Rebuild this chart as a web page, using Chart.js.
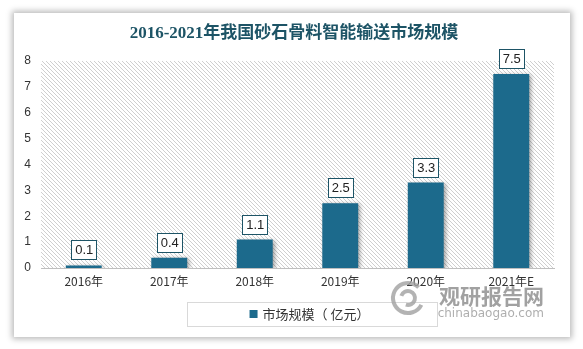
<!DOCTYPE html>
<html>
<head>
<meta charset="utf-8">
<script src="https://cdn.jsdelivr.net/npm/chart.js@4.4.1/dist/chart.umd.min.js"></script>
<style>
  html, body { margin: 0; padding: 0; background: #fff; }
  body { width: 583px; height: 349px; position: relative; overflow: hidden; }
  .card {
    position: absolute; left: 14px; top: 13px; width: 556px; height: 324px;
    background: #fff; box-shadow: 0 0 6px 2px rgba(0,0,0,.28);
  }
  canvas { display: block; }
</style>
</head>
<body>
<div class="card"><canvas id="chart" width="556" height="324"></canvas></div>
<script>
/* ── Data ───────────────────────────────────────────── */
const years  = ['2016年', '2017年', '2018年', '2019年', '2020年', '2021年E'];
const values = [0.1, 0.4, 1.1, 2.5, 3.3, 7.5];
const seriesName = '市场规模（ 亿元）';
const chartTitle = '2016-2021年我国砂石骨料智能输送市场规模';

const BAR   = '#1c6a8c';
const TEAL  = '#1d5466';
const FONT  = '"Liberation Sans", "Noto Sans CJK SC", sans-serif';
const CJK   = '"Noto Sans CJK SC", sans-serif';

/* ── Hatch background ───────────────────────────────── */
function hatch() {
  const c = document.createElement('canvas');
  c.width = 4; c.height = 4;
  const g = c.getContext('2d');
  g.fillStyle = '#fff'; g.fillRect(0, 0, 4, 4);
  g.fillStyle = '#cfcfcf';
  for (let i = 0; i < 4; i++) g.fillRect(i, i, 1, 1);
  return c;
}

const plotBg = {
  id: 'plotBg',
  beforeDraw(chart) {
    const { ctx, chartArea: a } = chart;
    ctx.save();
    ctx.fillStyle = ctx.createPattern(hatch(), 'repeat');
    ctx.fillRect(a.left, a.top, a.right - a.left, a.bottom - a.top);
    ctx.restore();
  },
};

/* ── Title, labels, legend frame, watermark ─────────── */
const extras = {
  id: 'extras',
  beforeDatasetsDraw(chart) {
    chart.ctx.save();
    chart.ctx.shadowColor = 'rgba(0,0,0,.35)';
    chart.ctx.shadowBlur = 4;
    chart.ctx.shadowOffsetX = 2;
    chart.ctx.shadowOffsetY = 1;
  },
  afterDatasetsDraw(chart) {
    const ctx = chart.ctx;
    ctx.restore();

    // value boxes
    const meta = chart.getDatasetMeta(0);
    ctx.save();
    ctx.font = '13px ' + FONT;
    ctx.textAlign = 'center';
    ctx.textBaseline = 'middle';
    meta.data.forEach((bar, i) => {
      const w = 25, h = 19;
      const x = Math.round(bar.x - w / 2), y = Math.round(bar.y - 6 - h);
      ctx.fillStyle = '#fff';
      ctx.fillRect(x, y, w, h);
      ctx.strokeStyle = TEAL;
      ctx.lineWidth = 1;
      ctx.strokeRect(x + .5, y + .5, w, h);
      ctx.fillStyle = '#222';
      ctx.fillText(values[i].toFixed(1), bar.x + .5, y + h / 2 + 1);
    });
    ctx.restore();
  },
  afterDraw(chart) {
    const { ctx } = chart;
    ctx.save();
    // title
    ctx.font = 'bold 17px "Liberation Serif", ' + CJK;
    ctx.fillStyle = TEAL;
    ctx.textAlign = 'center';
    ctx.textBaseline = 'middle';
    ctx.fillText(chartTitle, 280, 21);

    // legend
    const cx = 295, cy = 301;
    ctx.strokeStyle = '#d9d9d9';
    ctx.strokeRect(173.5, 289.5, 250, 24);
    ctx.font = '13px ' + CJK;
    ctx.textAlign = 'left';
    const tw = ctx.measureText(seriesName).width;
    const lx = cx - (tw + 12) / 2;
    ctx.fillStyle = BAR;
    ctx.fillRect(lx, cy - 4, 8, 8);
    ctx.fillStyle = '#333';
    ctx.fillText(seriesName, lx + 13, cy);

    // watermark
    ctx.globalAlpha = .8;
    ctx.fillStyle = '#8a8a8a';
    ctx.font = 'bold 21px ' + CJK;
    ctx.textAlign = 'right';
    ctx.fillText('观研报告网', 530, 283);
    ctx.fillStyle = '#9a9a9a';
    ctx.font = '12px "DejaVu Sans", sans-serif';
    ctx.textBaseline = 'alphabetic';
    ctx.fillText('chinabaogao.com', 530, 304);
    ctx.lineWidth = 4;
    ctx.strokeStyle = '#a0a0a0';
    ctx.beginPath();
    ctx.arc(394, 285, 15, Math.PI * .15, Math.PI * 1.75);
    ctx.stroke();
    ctx.beginPath();
    ctx.arc(394, 285, 7, Math.PI * 1.1, Math.PI * 2.6);
    ctx.stroke();
    ctx.restore();
  },
};

/* ── Chart ──────────────────────────────────────────── */
new Chart(document.getElementById('chart'), {
  type: 'bar',
  data: {
    labels: years,
    datasets: [{
      label: seriesName,
      data: values,
      backgroundColor: BAR,
      categoryPercentage: 1,
      barPercentage: 0.42,
    }],
  },
  options: {
    responsive: false,
    animation: false,
    layout: { padding: { top: 48, right: 16, left: 0, bottom: 0 } },
    plugins: { legend: { display: false }, tooltip: { enabled: false } },
    scales: {
      x: {
        grid: { display: false, drawTicks: false },
        border: { color: '#bfbfbf' },
        ticks: { color: '#333', font: { size: 12, family: CJK }, padding: 6 },
        afterFit: s => { s.height = 69; },
      },
      y: {
        min: 0, max: 8,
        grid: { display: false, drawTicks: false },
        border: { display: false },
        ticks: { stepSize: 1, color: '#333', font: { size: 12, family: FONT }, padding: 10 },
        afterFit: s => { s.width = 27; },
      },
    },
  },
  plugins: [plotBg, extras],
});
</script>
</body>
</html>
